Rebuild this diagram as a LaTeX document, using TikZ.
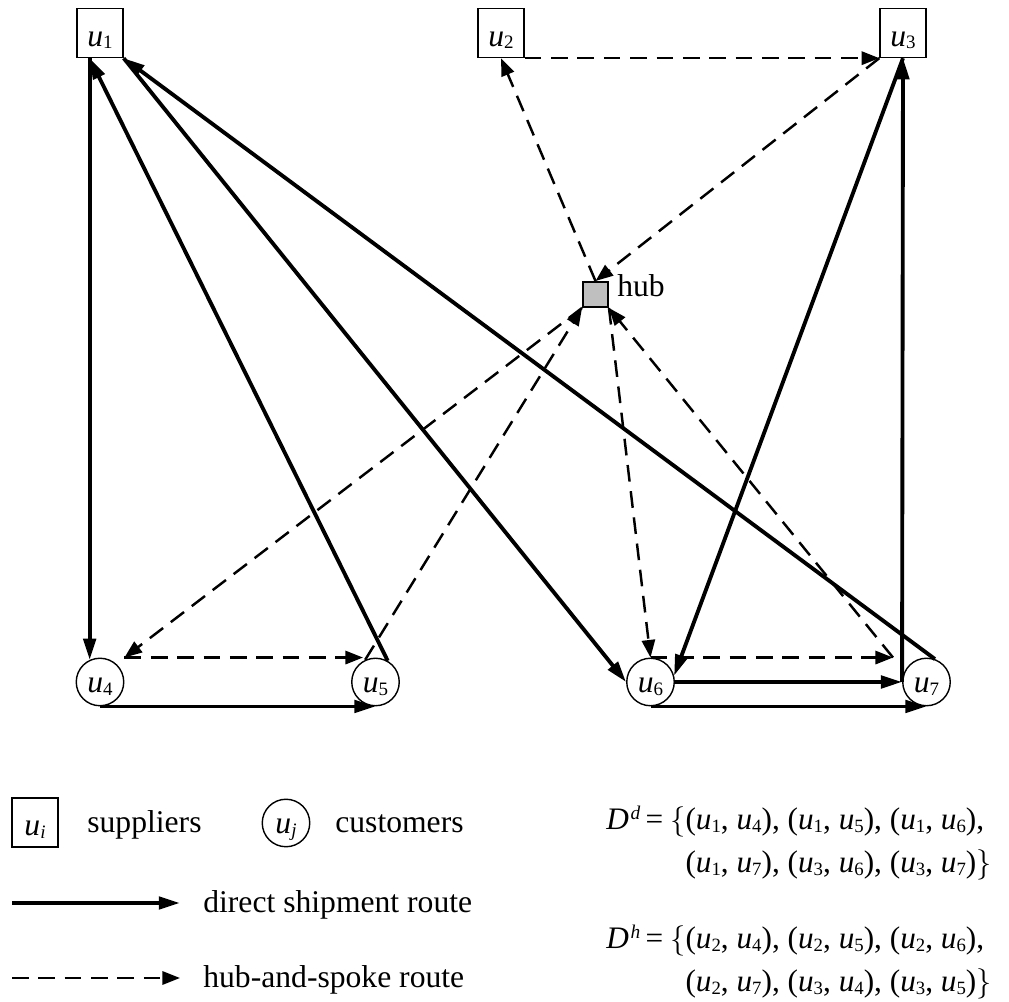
\documentclass[tikz,border=0pt]{standalone}
\usepackage{fontspec}
\setmainfont{Liberation Serif}
\usetikzlibrary{arrows.meta,calc,positioning}

\newcommand\sbs[1]{\raisebox{-0.08em}{\scalebox{0.6}{#1}}}
\newcommand\sps[1]{\raisebox{0.32em}{\scalebox{0.62}{\itshape #1}}}
\newcommand\uu[1]{\textit{u}\sbs{#1}}

\begin{document}
\begin{tikzpicture}[font=\fontsize{18}{25.5}\selectfont,
  supplier/.style={draw, line width=0.8pt, minimum width=0.92cm, minimum height=0.98cm,
    inner sep=0pt, text height=15pt, text depth=0pt},
  customer/.style={draw, circle, line width=0.8pt, minimum size=0.95cm,
    inner sep=0pt, text height=12pt, text depth=0pt},
  direct/.style={line width=2.2pt, -{Triangle[length=12pt,width=7pt]}},
  hubroute/.style={line width=1.4pt, dash pattern=on 9.5pt off 5.5pt,
    -{Triangle[length=10pt,width=7.5pt]}},
  plain/.style={anchor=base west, inner sep=0pt},
  setlist/.style={plain, font=\fontsize{17.8}{24.4}\selectfont}]
  \useasboundingbox (0,0) rectangle (20.18,20.04);

  \foreach \name/\x/\k in {u1/2.00/1, u2/10.02/2, u3/18.06/3}
    \node[supplier] (\name) at (\x,19.38) {\uu{\k}};
  \foreach \name/\x/\k in {u4/2.00/4, u5/7.51/5, u6/13.01/6, u7/18.53/7}
    \node[customer] (\name) at (\x,6.40) {\uu{\k}};
  \node[draw, fill=black!25, line width=1.1pt, minimum size=0.5cm, inner sep=0pt] (hub) at (11.91,14.15) {};
  \node[plain] (hublabel) at ($(hub.east)+(0.16,-0.04)$) {hub};

  \coordinate (u1b) at (u1.south -| u4.115);
  \coordinate (u4c) at (u4.north -| u4.east);
  \coordinate (u5in) at ($(u5.north)+(-0.25,0)$);
  \coordinate (u7in) at ($(u7.north)+(-0.67,0)$);

  % direct shipment
  \draw[direct] (u1b) -- (u4.115);
  \draw[direct] (u5.60) -- (u1b);
  \draw[direct] (u1.south east) -- (u6.west);
  \draw[direct] (u7.70) -- (u1.south east);
  \draw[direct] (u3.south) -- (u6.15);
  \draw[direct] (u7.west) -- (u3.south);
  \draw[direct] (u6.east) -- (u7.west);
  \draw[direct] (u6.south) -- (u7.south);
  \draw[direct] (u4.south) -- (u5.south);

  % hub-and-spoke
  \draw[hubroute] (u2.south east) -- (u3.south west);
  \draw[hubroute] (hub.north) -- (u2.south);
  \draw[hubroute] (u3.south west) -- (hub.north);
  \draw[hubroute] (hub.south west) -- (u4c);
  \draw[hubroute] (u5.115) -- (hub.south west);
  \draw[hubroute] (u4c) -- (u5in);
  \draw[hubroute] (hub.south east) -- (u6.north);
  \draw[hubroute] (u6.north) -- (u7in);
  \draw[hubroute] (u7in) -- (hub.south east);

  % legend
  \node[supplier] (lsup) at (0.70,3.59) {\uu{\textit{i}}};
  \node[plain] (lsuptext) at (1.74,3.38) {suppliers};
  \node[customer] (lcus) at (5.72,3.58) {\uu{\textit{j}}};
  \node[plain] (lcustext) at (6.70,3.38) {customers};
  \coordinate (ldir) at (0.24,1.98);
  \coordinate (ldirend) at (3.60,1.98);
  \draw[direct] (ldir) -- (ldirend);
  \node[plain] (ldirtext) at (4.06,1.78) {direct shipment route};
  \coordinate (lhub) at (0.24,0.48);
  \coordinate (lhubend) at (3.60,0.48);
  \draw[hubroute] (lhub) -- (lhubend);
  \node[plain] (lhubtext) at (4.06,0.28) {hub-and-spoke route};

  \node[setlist] (setd) at (12.12,3.44) {\begin{tabular}[t]{@{}l@{}l@{}}
    \textit{D}\kern1pt\sps{d}\hspace{3pt}=\hspace{4pt}$\big\{$ & (\uu1, \uu4), (\uu1, \uu5), (\uu1, \uu6),\\
    & (\uu1, \uu7), (\uu3, \uu6), (\uu3, \uu7)$\big\}$
  \end{tabular}};
  \node[setlist] (seth) at (12.12,1.06) {\begin{tabular}[t]{@{}l@{}l@{}}
    \textit{D}\kern1pt\sps{h}\hspace{3pt}=\hspace{4pt}$\big\{$ & (\uu2, \uu4), (\uu2, \uu5), (\uu2, \uu6),\\
    & (\uu2, \uu7), (\uu3, \uu4), (\uu3, \uu5)$\big\}$
  \end{tabular}};
\end{tikzpicture}
\end{document}
